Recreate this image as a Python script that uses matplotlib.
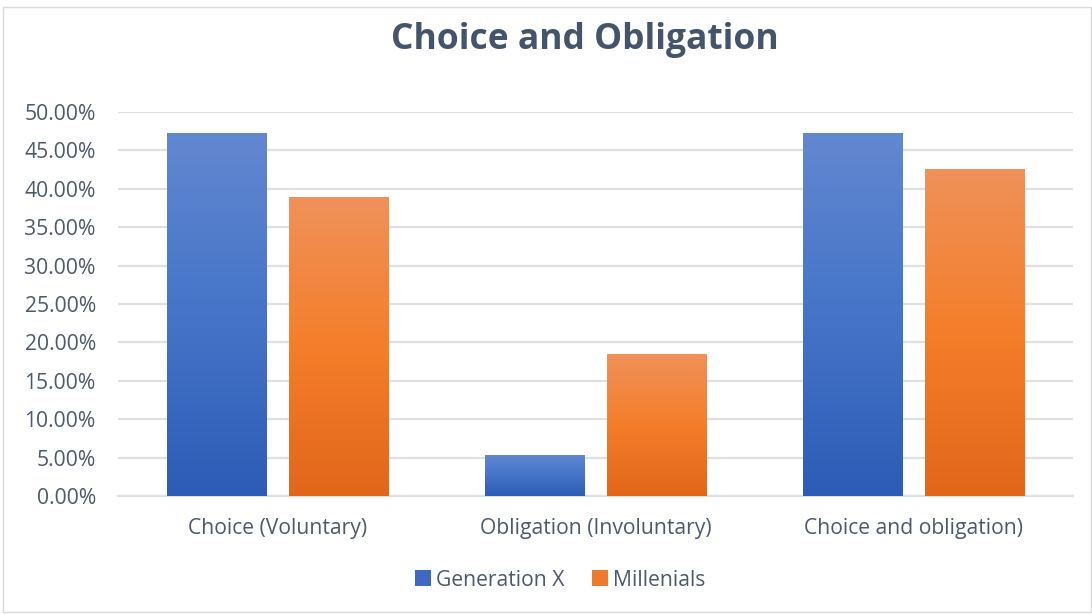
import matplotlib
matplotlib.use("Agg")
import matplotlib.pyplot as plt
import numpy as np
from matplotlib.colors import LinearSegmentedColormap
from matplotlib.patches import Patch, Rectangle

categories = ["Choice (Voluntary)", "Obligation (Involuntary)", "Choice and obligation)"]
generation_x = [47.3, 5.35, 47.3]
millenials = [38.9, 18.5, 42.6]
series_names = ["Generation X", "Millenials"]
y_ticks = [0, 5, 10, 15, 20, 25, 30, 35, 40, 45, 50]

TEXT = "#4d5a6c"
TITLE = "#44546a"
GRID = "#dde1e6"

plt.rcParams["font.family"] = ["Open Sans", "DejaVu Sans"]

fig = plt.figure(figsize=(10.92, 6.15), dpi=100)
ax = fig.add_axes([118 / 1092, 1 - 496 / 615, (1073 - 118) / 1092, (496 - 112) / 615])

blue_cmap = LinearSegmentedColormap.from_list("b", ["#2d5cb6", "#4574c8", "#6288d0"])
orange_cmap = LinearSegmentedColormap.from_list("o", ["#e2661a", "#f47e2a", "#f0915a"])

x = np.arange(len(categories))
width = 0.311
offset = 0.1915


def gradient_bars(xpos, values, cmap):
    bars = ax.bar(xpos, values, width, color="none", edgecolor="none", zorder=3)
    grad = np.linspace(0, 1, 256).reshape(-1, 1)
    for b in bars:
        x0, y0 = b.get_x(), b.get_y()
        w, h = b.get_width(), b.get_height()
        im = ax.imshow(grad, cmap=cmap, aspect="auto", origin="lower",
                       extent=[x0, x0 + w, y0, y0 + h], zorder=3)
        im.set_clip_path(b)
    return bars


gradient_bars(x - offset, generation_x, blue_cmap)
gradient_bars(x + offset, millenials, orange_cmap)

ax.set_xlim(-0.5, 2.5)
ax.set_ylim(0, 50)
ax.set_yticks(y_ticks)
ax.set_yticklabels([f"{v:.2f}%" for v in y_ticks], fontsize=15.2, color=TEXT)
ax.set_xticks(x)
ax.set_xticklabels(categories, fontsize=15.2, color=TEXT)
ax.tick_params(axis="both", length=0)
ax.tick_params(axis="y", pad=16)
ax.tick_params(axis="x", pad=16)
ax.grid(axis="y", color=GRID, linewidth=1.6, zorder=0)
ax.set_axisbelow(True)
for s in ["top", "right", "left"]:
    ax.spines[s].set_visible(False)
ax.spines["bottom"].set_color(GRID)
ax.spines["bottom"].set_linewidth(1.6)

fig.text(585 / 1092, 1 - 40 / 615, "Choice and Obligation", ha="center", va="center",
         fontsize=25.5, fontweight="bold", color=TITLE)

handles = [Patch(facecolor="#3d69c2", edgecolor="none"),
           Patch(facecolor="#ee7a2e", edgecolor="none")]
fig.legend(handles, series_names, loc="center", bbox_to_anchor=(560 / 1092, 1 - 580 / 615),
           ncol=2, frameon=False, fontsize=15.2, labelcolor=TEXT,
           handlelength=0.75, handleheight=0.75, handletextpad=0.25, columnspacing=1.3)

fig.patches.append(Rectangle((3 / 1092, 3 / 615), 1 - 4 / 1092, 1 - 10 / 615,
                             transform=fig.transFigure, fill=False,
                             edgecolor="#d9d9d9", linewidth=1.0))

fig.savefig("out.png", dpi=100)
